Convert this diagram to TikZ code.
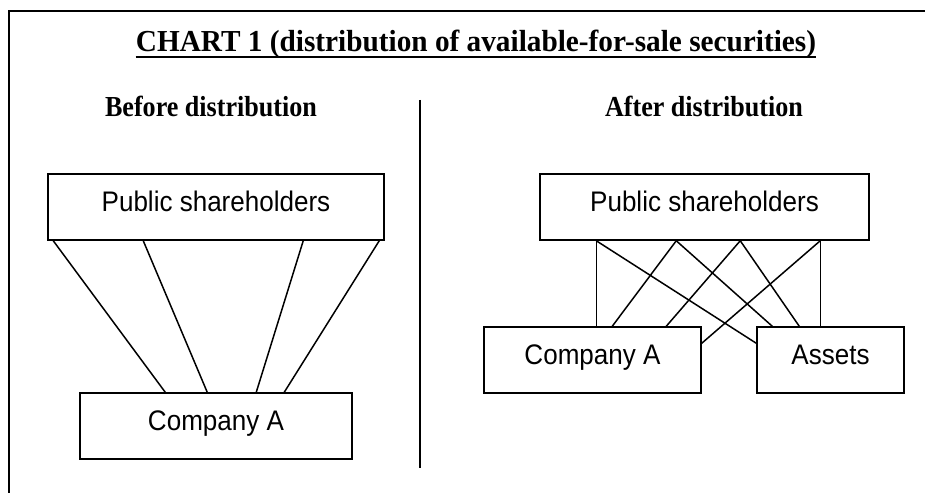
\documentclass[tikz,border=0pt]{standalone}
\usepackage{fontspec}
\setmainfont[FakeStretch=0.9]{Liberation Serif}
\newfontfamily\titlefont[FakeStretch=0.96]{Liberation Serif}
\newfontfamily\boxfont[FakeStretch=0.92]{Liberation Sans}
\usepackage{tikz}

\begin{document}
\begin{tikzpicture}[x=1pt,y=-1pt]
	
	\tikzset{holder box/.style={draw, line width=1.5pt, inner sep=0, text height=20pt, text depth=12pt, minimum height=66pt, font=\boxfont\fontsize{28.3}{30}\selectfont}}
	\tikzset{tie/.style={line width=1.5pt}}
	\tikzset{heading/.style={anchor=base, inner sep=0, font=\bfseries\fontsize{29}{32}\selectfont}}
	
	\useasboundingbox (0,0) rectangle (925,492);
	\clip (0,0) rectangle (925,492);
	\draw[line width=2.2pt] (9,11) rectangle (960,520);
	
	\node[heading, font=\titlefont\bfseries\fontsize{30.5}{36}\selectfont] (chart) at (476,52) {CHART 1 (distribution of available-for-sale securities)};
	\draw[line width=2.2pt] ([yshift=-5pt]chart.base west) -- ([yshift=-5pt]chart.base east);
	
	\node[heading] (before) at (211,117) {Before distribution};
	\node[heading] (after) at (704,117) {After distribution};
	
	\coordinate (splittop) at (420,100);
	\coordinate (splitbot) at (420,468);
	\draw[tie] (splittop) -- (splitbot);
	
	% before
	\node[holder box, minimum width=336pt] (pubL) at (216,207) {Public shareholders};
	\node[holder box, minimum width=272pt] (compL) at (216,426) {Company A};
	
	\draw[tie] ([xshift=6pt]pubL.south west) -- ([xshift=86pt]compL.north west);
	\draw[tie] ([xshift=96pt]pubL.south west) -- ([xshift=128pt]compL.north west);
	\draw[tie] ([xshift=256pt]pubL.south west) -- ([xshift=177pt]compL.north west);
	\draw[tie] ([xshift=332pt]pubL.south west) -- ([xshift=205pt]compL.north west);
	
	% after
	\node[holder box, minimum width=329pt] (pubR) at (704.5,207) {Public shareholders};
	\node[holder box, minimum width=217pt] (compR) at (592.5,360) {Company A};
	\node[holder box, minimum width=147pt] (assets) at (830.5,360) {Assets};
	
	\draw[tie] ([xshift=57pt]pubR.south west) -- ([xshift=113pt]compR.north west);
	\draw[tie] ([xshift=57pt]pubR.south west) -- ([yshift=-17pt]assets.north west);
	\draw[tie] ([xshift=137pt]pubR.south west) -- ([xshift=129pt]compR.north west);
	\draw[tie] ([xshift=137pt]pubR.south west) -- ([xshift=16pt]assets.north west);
	\draw[tie] ([xshift=201pt]pubR.south west) -- ([xshift=183pt]compR.north west);
	\draw[tie] ([xshift=201pt]pubR.south west) -- ([xshift=43pt]assets.north west);
	\draw[tie] ([xshift=281pt]pubR.south west) -- ([yshift=-17pt]compR.north east);
	\draw[tie] ([xshift=281pt]pubR.south west) -- ([xshift=64pt]assets.north west);
	
\end{tikzpicture}
\end{document}
